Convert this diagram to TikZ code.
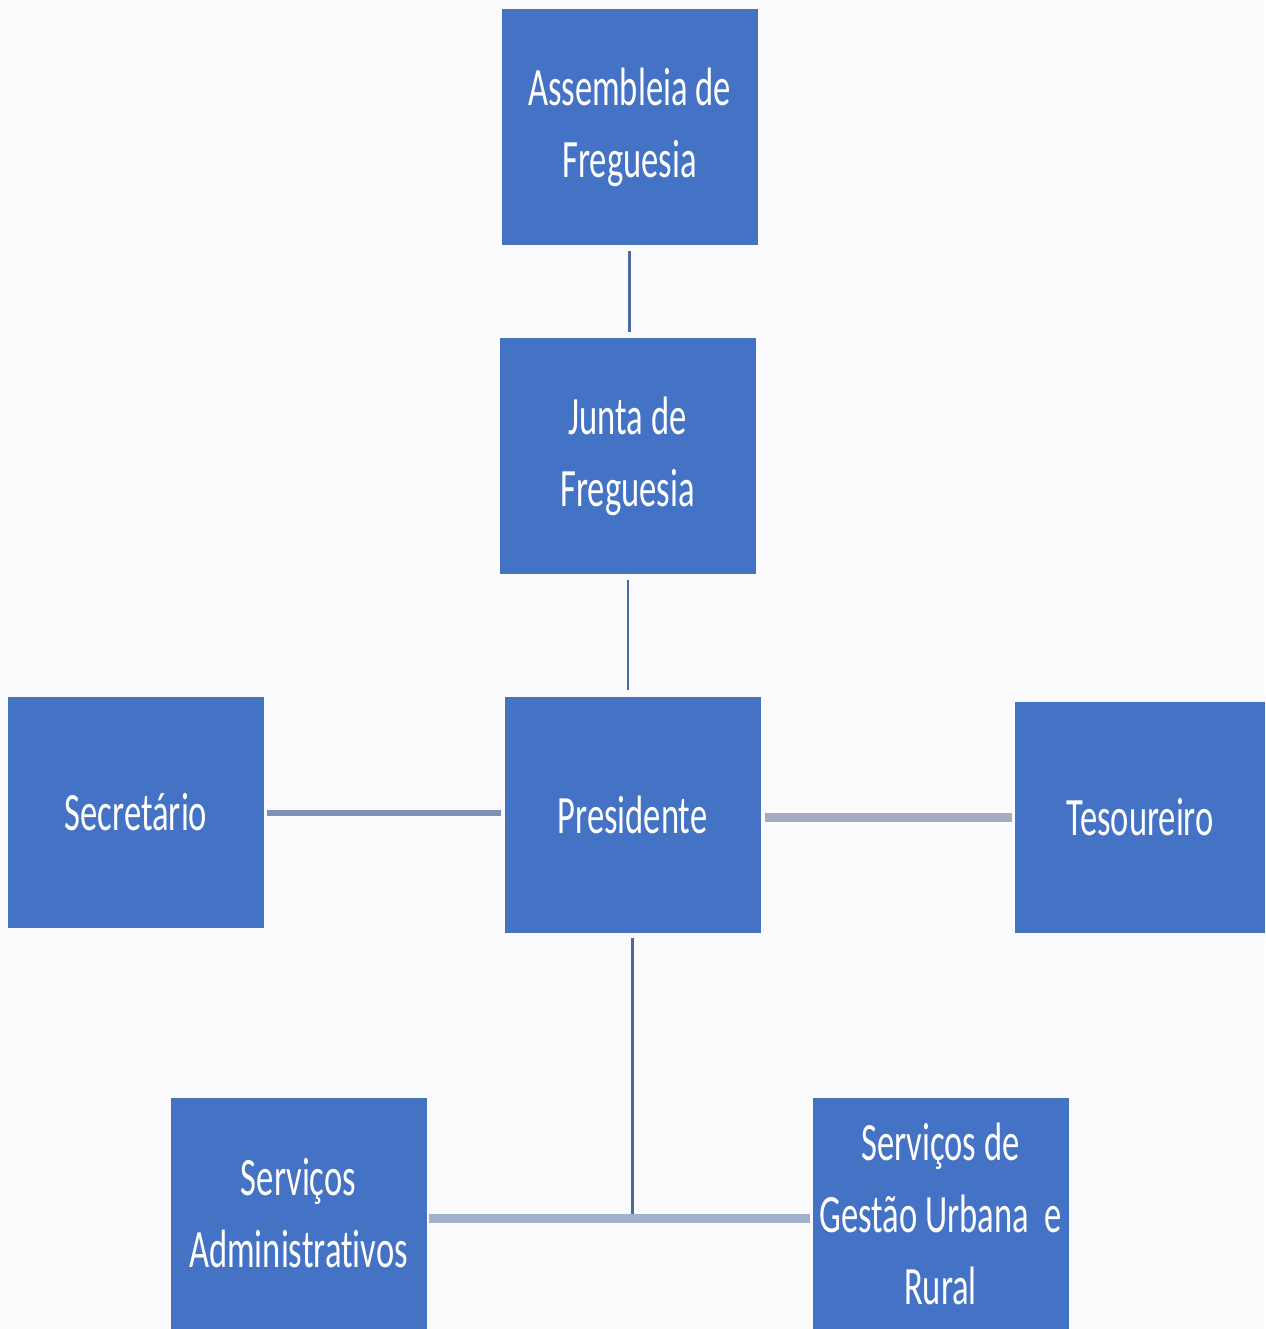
\documentclass[tikz,border=0pt]{standalone}
\usepackage{fontspec}
\setmainfont{Carlito}[FakeStretch=0.64,Ligatures={NoCommon}]
\begin{document}
\begin{tikzpicture}[x=1pt,y=-1pt,
  box/.style={draw=none,fill=boxblue,text=white,minimum width=256pt,minimum height=236pt,
    align=center,inner sep=0pt,font=\fontsize{54}{72}\selectfont},
  thinc/.style={draw=lineblue,line width=2.5pt},
  midc/.style={draw=linemid,line width=6pt},
  grayc/.style={draw=linegray,line width=9pt},
  lightc/.style={draw=linelight,line width=9pt}]
\definecolor{boxblue}{HTML}{4472C4}
\definecolor{lineblue}{HTML}{4A6AA0}
\definecolor{linemid}{HTML}{7F90B8}
\definecolor{linegray}{HTML}{A4ADBF}
\definecolor{linelight}{HTML}{A0B0CE}
\definecolor{bg}{HTML}{FBFBFE}
\fill[bg] (0,0) rectangle (1265,1329);
\useasboundingbox (0,0) rectangle (1265,1329);
\node[box] (assem) at (629.5,127.5) {Assembleia de\\Freguesia};
\node[box] (junta) at (627.5,456) {Junta de\\Freguesia};
\node[box] (pres) at (632.5,815) {Presidente};
\node[box,minimum height=231pt] (sec) at (136,812.5) {Secretário};
\node[box,minimum width=250pt,minimum height=231pt] (tes) at (1140,817.5) {Tesoureiro};
\node[box,minimum height=231pt] (adm) at (298.5,1213.5) {Serviços\\Administrativos};
\node[box,minimum height=231pt] (ges) at (940.5,1213.5) {Serviços de\\Gestão Urbana\ \ e\\Rural};
\coordinate (j) at (632,1218);
\draw[thinc,shorten <=5pt,shorten >=6pt] (assem.south) -- (assem.south |- junta.north);
\draw[thinc,line width=2pt,shorten <=6pt,shorten >=7pt] (junta.south) -- (junta.south |- pres.north);
\draw[midc,shorten <=3pt,shorten >=3pt] ([yshift=-0.5pt]sec.east) -- ([yshift=-0.5pt]sec.east -| pres.west);
\draw[grayc,shorten <=4pt,shorten >=3pt] (pres.east |- tes.west) -- (tes.west);
\draw[thinc,line width=3.5pt,shorten <=5pt] (pres.south) -- (pres.south |- j);
\draw[lightc,shorten <=2pt,shorten >=2pt] (adm.east |- j) -- (ges.west |- j);
\end{tikzpicture}
\end{document}
